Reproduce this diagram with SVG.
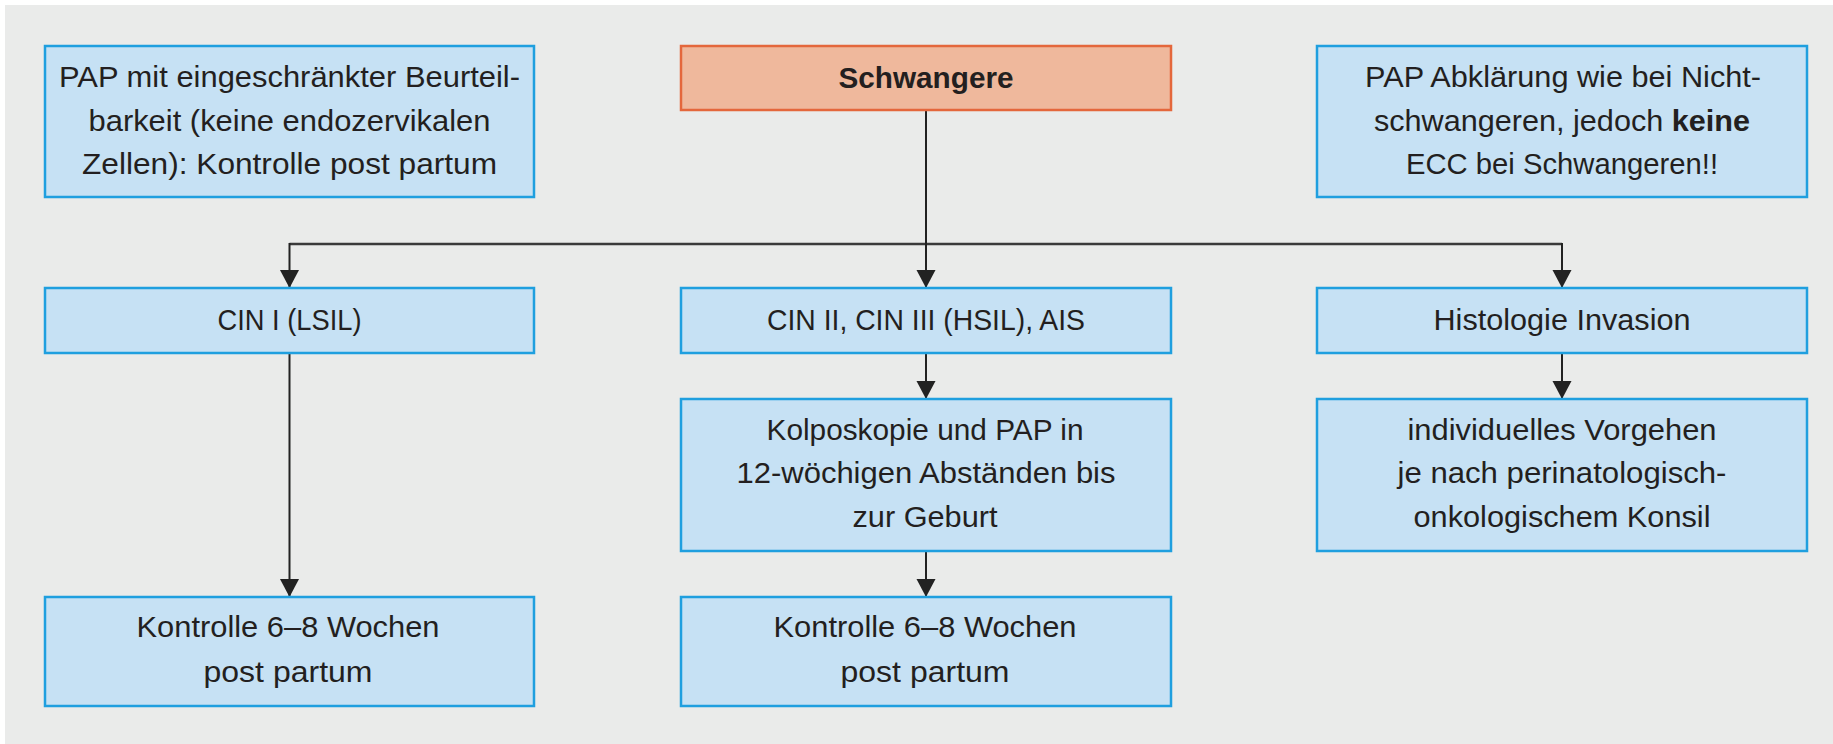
<svg xmlns="http://www.w3.org/2000/svg" width="1833" height="744" viewBox="0 0 1833 744">
  <style>
    .panel { fill: #eaebea; }
    .box { fill: #c6e1f4; stroke: #1f9fdf; stroke-width: 2.5; }
    .start { fill: #efb89c; stroke: #e4673c; stroke-width: 2.5; }
    .label { font-family: "Liberation Sans", Arial, sans-serif; font-size: 30px; fill: #231f20; text-anchor: middle; }
    .bold { font-weight: bold; }
    .edge { fill: none; stroke: #222; stroke-width: 2; }
    .rail { fill: none; stroke: #3a3a3a; stroke-width: 2.6; }
  </style>
  <defs>
    <marker id="arrow" viewBox="0 -10 18 20" refX="18" refY="0" markerWidth="18" markerHeight="20" markerUnits="userSpaceOnUse" orient="auto">
      <path d="M0,-9.5 L18,0 L0,9.5 Z" fill="#222"/>
    </marker>
  </defs>

  <rect class="panel" x="5" y="5" width="1828" height="739"/>

  <!-- connectors -->
  <g id="connectors">
    <path class="rail" d="M289.5,244 H1562"/>
    <path class="edge" d="M926,110 V288" marker-end="url(#arrow)"/>
    <path class="edge" d="M289.5,243 V288" marker-end="url(#arrow)"/>
    <path class="edge" d="M1562,243 V288" marker-end="url(#arrow)"/>
    <path class="edge" d="M289.5,353 V597" marker-end="url(#arrow)"/>
    <path class="edge" d="M926,353 V399" marker-end="url(#arrow)"/>
    <path class="edge" d="M926,551 V597" marker-end="url(#arrow)"/>
    <path class="edge" d="M1562,353 V399" marker-end="url(#arrow)"/>
  </g>

  <!-- top row -->
  <g id="pap-beurteilbarkeit">
    <rect class="box" x="45" y="46" width="489" height="151"/>
    <text class="label" x="289.5" y="87" textLength="461" lengthAdjust="spacingAndGlyphs">PAP mit eingeschränkter Beurteil-</text>
    <text class="label" x="289.5" y="131" textLength="402" lengthAdjust="spacingAndGlyphs">barkeit (keine endozervikalen</text>
    <text class="label" x="289.5" y="174" textLength="415" lengthAdjust="spacingAndGlyphs">Zellen): Kontrolle post partum</text>
  </g>

  <g id="schwangere">
    <rect class="start" x="681" y="46" width="490" height="64"/>
    <text class="label bold" x="926" y="88" textLength="175" lengthAdjust="spacingAndGlyphs">Schwangere</text>
  </g>

  <g id="pap-abklaerung">
    <rect class="box" x="1317" y="46" width="490" height="151"/>
    <text class="label" x="1563" y="87" textLength="396" lengthAdjust="spacingAndGlyphs">PAP Abklärung wie bei Nicht-</text>
    <text class="label" x="1562" y="131" textLength="376" lengthAdjust="spacingAndGlyphs">schwangeren, jedoch <tspan class="bold">keine</tspan></text>
    <text class="label" x="1562" y="174" textLength="312" lengthAdjust="spacingAndGlyphs">ECC bei Schwangeren!!</text>
  </g>

  <!-- second row -->
  <g id="cin1">
    <rect class="box" x="45" y="288" width="489" height="65"/>
    <text class="label" x="289.5" y="330" textLength="144" lengthAdjust="spacingAndGlyphs">CIN I (LSIL)</text>
  </g>

  <g id="cin2-3">
    <rect class="box" x="681" y="288" width="490" height="65"/>
    <text class="label" x="926" y="330" textLength="318" lengthAdjust="spacingAndGlyphs">CIN II, CIN III (HSIL), AIS</text>
  </g>

  <g id="invasion">
    <rect class="box" x="1317" y="288" width="490" height="65"/>
    <text class="label" x="1562" y="330" textLength="257" lengthAdjust="spacingAndGlyphs">Histologie Invasion</text>
  </g>

  <!-- third row -->
  <g id="kolposkopie">
    <rect class="box" x="681" y="399" width="490" height="152"/>
    <text class="label" x="925" y="440" textLength="317" lengthAdjust="spacingAndGlyphs">Kolposkopie und PAP in</text>
    <text class="label" x="926" y="483" textLength="379" lengthAdjust="spacingAndGlyphs">12-wöchigen Abständen bis</text>
    <text class="label" x="925" y="527" textLength="145" lengthAdjust="spacingAndGlyphs">zur Geburt</text>
  </g>

  <g id="individuell">
    <rect class="box" x="1317" y="399" width="490" height="152"/>
    <text class="label" x="1562" y="440" textLength="309" lengthAdjust="spacingAndGlyphs">individuelles Vorgehen</text>
    <text class="label" x="1562" y="483" textLength="329" lengthAdjust="spacingAndGlyphs">je nach perinatologisch-</text>
    <text class="label" x="1562" y="527" textLength="297" lengthAdjust="spacingAndGlyphs">onkologischem Konsil</text>
  </g>

  <!-- bottom row -->
  <g id="kontrolle-links">
    <rect class="box" x="45" y="597" width="489" height="109"/>
    <text class="label" x="288" y="637" textLength="303" lengthAdjust="spacingAndGlyphs">Kontrolle 6–8 Wochen</text>
    <text class="label" x="288" y="682" textLength="169" lengthAdjust="spacingAndGlyphs">post partum</text>
  </g>

  <g id="kontrolle-mitte">
    <rect class="box" x="681" y="597" width="490" height="109"/>
    <text class="label" x="925" y="637" textLength="303" lengthAdjust="spacingAndGlyphs">Kontrolle 6–8 Wochen</text>
    <text class="label" x="925" y="682" textLength="169" lengthAdjust="spacingAndGlyphs">post partum</text>
  </g>
</svg>
